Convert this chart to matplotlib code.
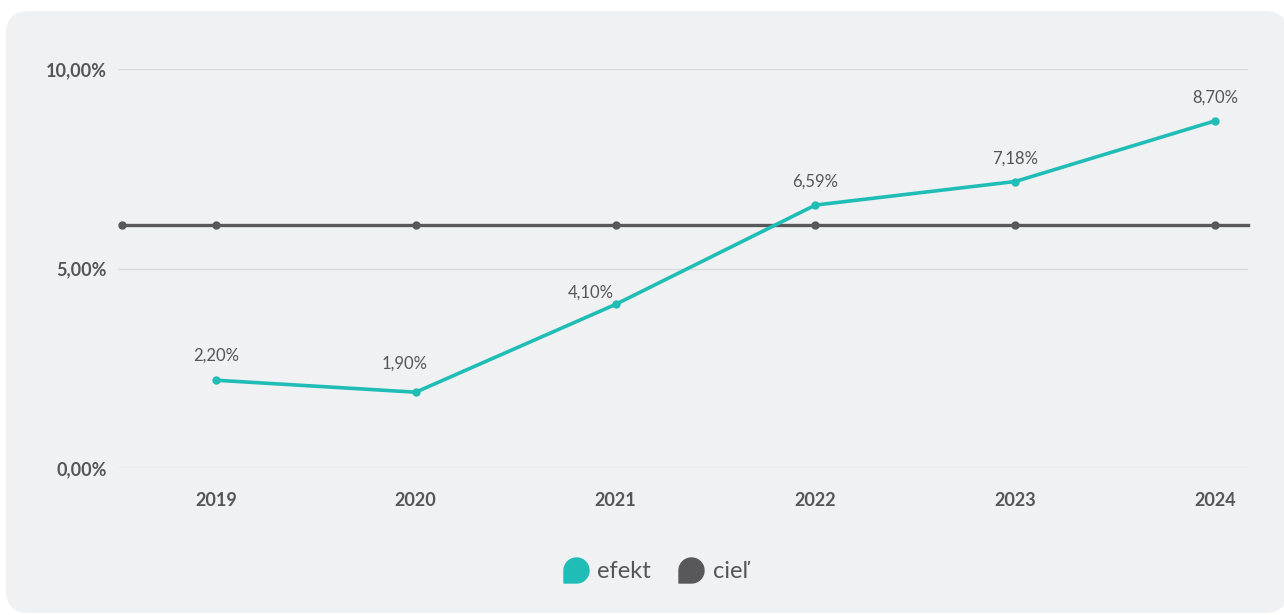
import numpy as np
import matplotlib
matplotlib.use('Agg')
import matplotlib.pyplot as plt
from matplotlib.patches import FancyBboxPatch
from matplotlib.path import Path
from matplotlib.lines import Line2D

plt.rcParams['font.family'] = ['Liberation Sans Narrow', 'Lato', 'DejaVu Sans']

years = ['2019', '2020', '2021', '2022', '2023', '2024']
efekt = [2.20, 1.90, 4.10, 6.59, 7.18, 8.70]
ciel = 6.1
y_ticks = [0, 5, 10]
y_labels = ['0,00%', '5,00%', '10,00%']

teal = '#20bdb6'
grey = '#58585a'
txt = '#555557'
bg = '#f0f1f3'

fig = plt.figure(figsize=(12.84, 6.15), dpi=100)
fig.patch.set_facecolor('white')
card = FancyBboxPatch((6 / 1284, 2 / 615), 1282 / 1284, 602 / 615,
                      boxstyle='round,pad=0,rounding_size=0.018',
                      transform=fig.transFigure, facecolor=bg, edgecolor='none',
                      mutation_aspect=1284 / 615, zorder=-5)
fig.patches.append(card)

ax = fig.add_axes([118 / 1284, 147 / 615, 1130 / 1284, 399 / 615])
ax.set_facecolor('none')
ax.set_zorder(2)
x = np.arange(len(years))
xl, xr = -0.49, 5.165
ax.set_xlim(xl, xr)
ax.set_ylim(0, 10)

for s in ax.spines.values():
    s.set_visible(False)
ax.set_yticks(y_ticks)
ax.set_yticklabels(y_labels)
ax.set_xticks(x)
ax.set_xticklabels(years)
ax.tick_params(length=0, colors=txt, labelsize=13)
ax.tick_params(axis='y', pad=8)
ax.tick_params(axis='x', pad=17)
for lab in ax.get_xticklabels() + ax.get_yticklabels():
    lab.set_fontweight('bold')
ax.grid(axis='y', color='#d8d9db', lw=1)
ax.set_axisbelow(True)

# target line
cx = np.concatenate([[xl + 0.02], x])
ax.plot([xl + 0.02, xr], [ciel, ciel], color=grey, lw=2.4, zorder=3, clip_on=False)
ax.plot(cx, [ciel] * len(cx), 'o', color=grey, ms=5, zorder=4, clip_on=False)

ax.plot(x, efekt, color=teal, lw=2.6, marker='o', ms=5, zorder=5, clip_on=False)

offs = [(0, 12), (-8, 15), (-18, 3), (0, 11), (0, 11), (0, 11)]
for xi, v, o in zip(x, efekt, offs):
    ax.annotate(f'{v:.2f}%'.replace('.', ','), (xi, v), xytext=o,
                textcoords='offset points', ha='center', va='bottom',
                fontsize=12, color=txt)

# legend marker: round with square bottom-left corner
ang = np.linspace(np.pi, -np.pi / 2, 40)
verts = list(zip(np.cos(ang), np.sin(ang))) + [(-1, -1), (-1, 0)]
mk = Path(verts, closed=True)
handles = [Line2D([], [], ls='none', marker=mk, ms=18, color=teal, label='efekt'),
           Line2D([], [], ls='none', marker=mk, ms=18, color=grey, label='cieľ')]
leg = fig.legend(handles=handles, loc='center', bbox_to_anchor=(656 / 1284, 1 - 572 / 615),
                 ncol=2, frameon=False, fontsize=17, handletextpad=0.4,
                 columnspacing=1.2, handlelength=1.0)
for t in leg.get_texts():
    t.set_color(txt)

fig.savefig('out.png', dpi=100, facecolor='white')
